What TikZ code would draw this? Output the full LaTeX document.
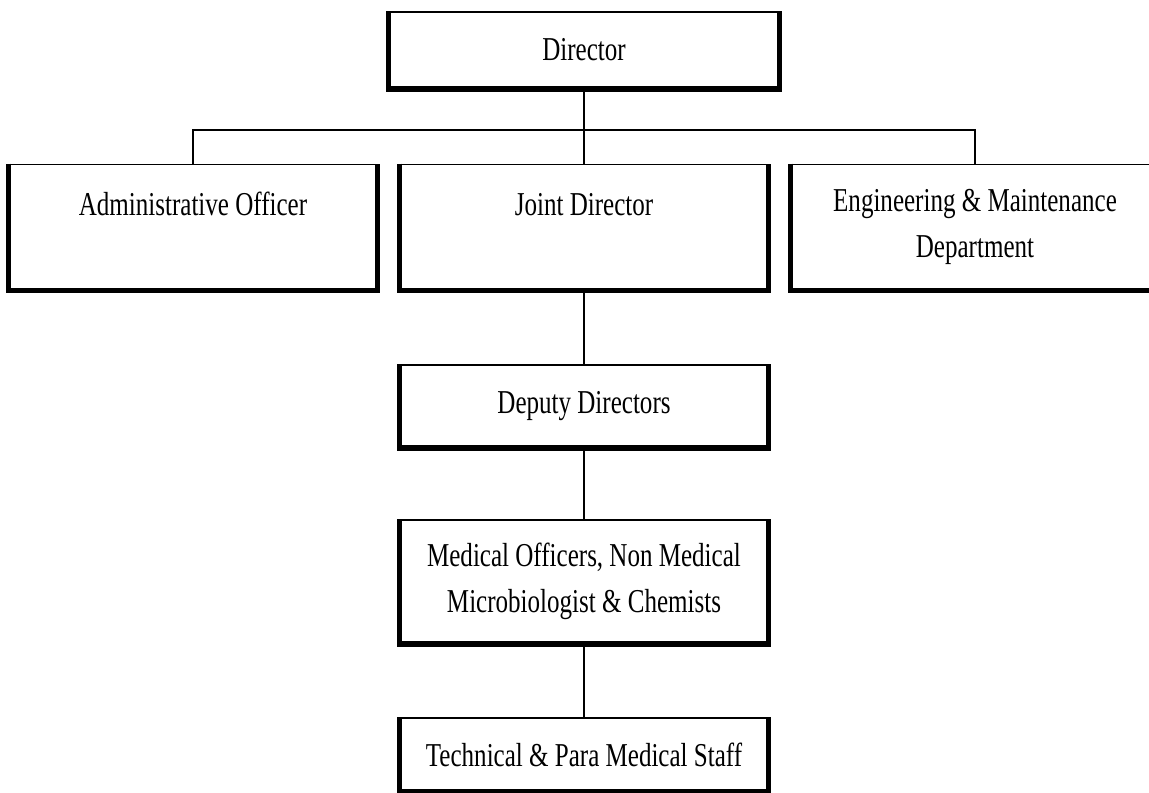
\documentclass[tikz,border=0pt]{standalone}
\usepackage{fontspec}
\setmainfont{Liberation Serif}[FakeStretch=0.75]
\usetikzlibrary{calc}

\begin{document}
\begin{tikzpicture}[
    x=0.02cm, y=-0.02cm, % one unit is one pixel of the page, y going down
    every node/.style={font=\fontsize{19}{26}\selectfont},
    orgbox/.style={draw, line width=1pt, align=center, inner sep=0pt,
      minimum width=7.34cm},
    tall/.style={orgbox, minimum height=2.5cm},
    link/.style={line width=1.1pt}
  ]

% page frame (the engineering box runs off the right edge)
\useasboundingbox (0,0) rectangle (1149,793);

% Top: the director
\node[orgbox, minimum width=7.8cm, minimum height=1.52cm] (dir) at (584,50) {Director};

% Second row, three boxes of the same size
\node[tall] (adm) at (193,227) {Administrative Officer\\~};
\node[tall] (joint) at (584,227) {Joint Director\\~};
\node[tall] (eng) at (975,227) {Engineering \& Maintenance\\Department};

% The chain below the joint director
\node[orgbox, minimum height=1.64cm] (dep) at (584,406) {Deputy Directors};
\node[orgbox, minimum height=2.46cm] (med) at (584,581.5)
  {Medical Officers, Non Medical\\Microbiologist \& Chemists};
\node[orgbox, minimum height=1.46cm] (tech) at (584,754.5) {Technical \& Para Medical Staff};

% Heavy edge on left, bottom and right of every box
\foreach \n in {dir,adm,joint,eng,dep,med,tech}
  \draw[line width=3pt] (\n.north west) -- (\n.south west) -- (\n.south east) -- (\n.north east);

% Connectors
\coordinate (bar) at (584,130); % where the row bar meets the director line
\draw[link] (dir.south) -- (joint.north);
\draw[link] (adm.north) |- (bar) -| (eng.north);
\draw[link] (joint.south) -- (dep.north);
\draw[link] (dep.south) -- (med.north);
\draw[link] (med.south) -- (tech.north);

\end{tikzpicture}
\end{document}
